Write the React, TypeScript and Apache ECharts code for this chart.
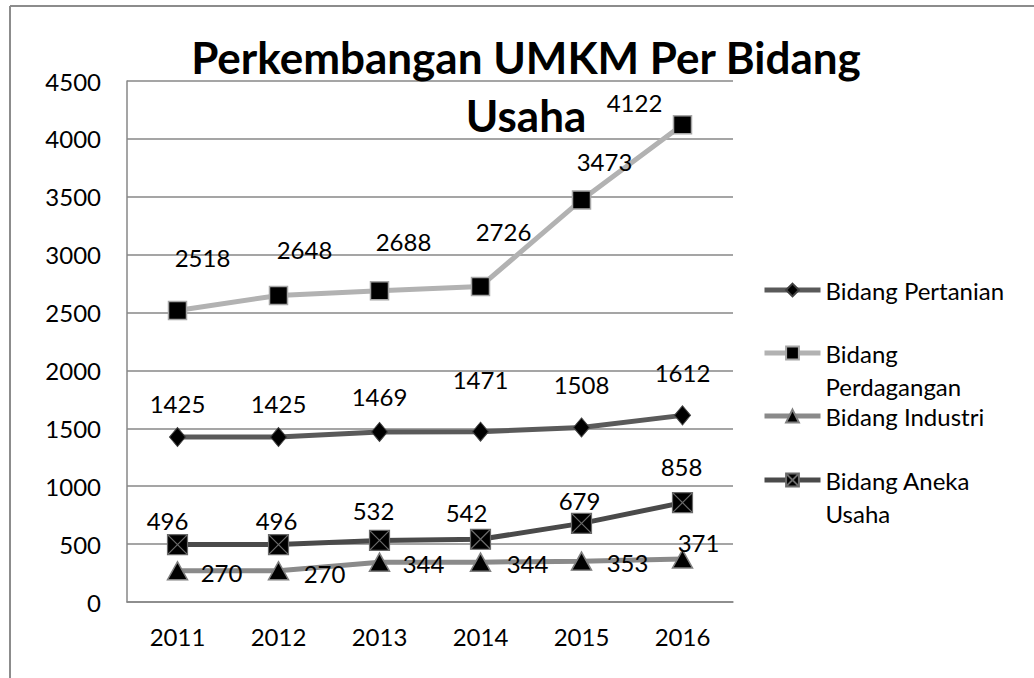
import React, { useEffect, useRef } from "react";
import * as echarts from "echarts";

const categories = ["2011", "2012", "2013", "2014", "2015", "2016"];
const pertanian = [1425, 1425, 1469, 1471, 1508, 1612];
const perdagangan = [2518, 2648, 2688, 2726, 3473, 4122];
const industri = [270, 270, 344, 344, 353, 371];
const anekaUsaha = [496, 496, 532, 542, 679, 858];

const pertanianOffsets = [[0, -34], [0, -34], [0, -35], [0, -52], [0, -43], [0, -43]];
const perdaganganOffsets = [[25, -53], [26, -46], [24, -49], [23, -55], [23, -38], [-48, -22]];
const industriOffsets = [[44, 2], [46, 3], [44, 1], [47, 1], [46, 1], [16, -17]];
const anekaOffsets = [[-10, -24], [-2, -24], [-6, -30], [-14, -27], [-2, -23], [-1, -36]];

const FONT = "Lato";
const crossSquare = "path://M0 0L10 0L10 10L0 10Z M0 0L10 10 M10 0L0 10";

function withLabels(values: number[], offsets: number[][]) {
  return values.map((v, i) => ({ value: v, label: { offset: offsets[i] } }));
}

export default function App() {
  const ref = useRef<HTMLDivElement>(null);
  useEffect(() => {
    document.body.style.margin = "0";
    const chart = echarts.init(ref.current!, null, { renderer: "svg" });
    const labelBase = {
      show: true,
      position: "inside" as const,
      color: "#000",
      fontFamily: FONT,
      fontSize: 24,
    };
    const legendText = { color: "#000", fontFamily: FONT, fontSize: 24, lineHeight: 33 };
    const legendCommon = {
      orient: "vertical" as const,
      left: 762,
      padding: 0,
      itemWidth: 56,
      itemHeight: 16,
      itemGap: 4,
      lineStyle: { width: 5 },
    };
    chart.setOption({
      animation: false,
      backgroundColor: "#fff",
      title: {
        text: "Perkembangan UMKM Per Bidang\nUsaha",
        left: 526,
        top: 28,
        padding: 0,
        textAlign: "center",
        textStyle: { fontFamily: FONT, fontSize: 44, fontWeight: "bold", color: "#000", lineHeight: 58 },
      },
      grid: { left: 127, right: 301, top: 81, bottom: 76, containLabel: false },
      xAxis: {
        type: "category",
        data: categories,
        boundaryGap: true,
        axisLine: { show: true, lineStyle: { color: "#878787", width: 1.5 } },
        axisTick: { show: false },
        axisLabel: { color: "#000", fontFamily: FONT, fontSize: 24, margin: 22 },
      },
      yAxis: {
        type: "value",
        min: 0,
        max: 4500,
        interval: 500,
        axisLine: { show: true, lineStyle: { color: "#878787", width: 1.5 } },
        axisTick: { show: false },
        splitLine: { show: true, lineStyle: { color: "#878787", width: 1.5 } },
        axisLabel: {
          color: "#000",
          fontFamily: FONT,
          fontSize: 24,
          margin: 26,
          formatter: (v: number) => String(v),
        },
      },
      legend: [
        { ...legendCommon, top: 273.5, data: ["Bidang Pertanian"], textStyle: legendText },
        {
          ...legendCommon,
          top: 303.5,
          data: ["Bidang Perdagangan"],
          formatter: () => " \nBidang\nPerdagangan",
          textStyle: legendText,
        },
        { ...legendCommon, top: 399.5, data: ["Bidang Industri"], textStyle: legendText },
        {
          ...legendCommon,
          top: 430.5,
          data: ["Bidang Aneka Usaha"],
          formatter: () => " \nBidang Aneka\nUsaha",
          textStyle: legendText,
        },
      ],
      series: [
        {
          name: "Bidang Pertanian",
          type: "line",
          data: withLabels(pertanian, pertanianOffsets),
          symbol: "diamond",
          symbolSize: [16, 19],
          lineStyle: { color: "#5a5a5a", width: 5 },
          itemStyle: { color: "#000", borderColor: "#404040", borderWidth: 1 },
          label: labelBase,
          z: 3,
        },
        {
          name: "Bidang Perdagangan",
          type: "line",
          data: withLabels(perdagangan, perdaganganOffsets),
          symbol: "rect",
          symbolSize: 18,
          lineStyle: { color: "#b2b2b2", width: 5 },
          itemStyle: { color: "#000", borderColor: "#a6a6a6", borderWidth: 1.5 },
          label: labelBase,
          z: 3,
        },
        {
          name: "Bidang Industri",
          type: "line",
          data: withLabels(industri, industriOffsets),
          symbol: "triangle",
          symbolSize: [20, 18],
          lineStyle: { color: "#8a8a8a", width: 5 },
          itemStyle: { color: "#000", borderColor: "#7f7f7f", borderWidth: 1.5 },
          label: labelBase,
          z: 3,
        },
        {
          name: "Bidang Aneka Usaha",
          type: "line",
          data: withLabels(anekaUsaha, anekaOffsets),
          symbol: crossSquare,
          symbolSize: 20,
          lineStyle: { color: "#4a4a4a", width: 5 },
          itemStyle: { color: "#000", borderColor: "#6a6a6a", borderWidth: 1.2 },
          label: labelBase,
          z: 3,
        },
      ],
      graphic: [
        { type: "line", shape: { x1: 10, y1: 6, x2: 1034, y2: 6 }, style: { stroke: "#8c8c8c", lineWidth: 2 } },
        { type: "line", shape: { x1: 10, y1: 6, x2: 10, y2: 678 }, style: { stroke: "#8c8c8c", lineWidth: 2 } },
      ],
    });
    return () => chart.dispose();
  }, []);
  return <div ref={ref} style={{ width: 1034, height: 678 }} />;
}
